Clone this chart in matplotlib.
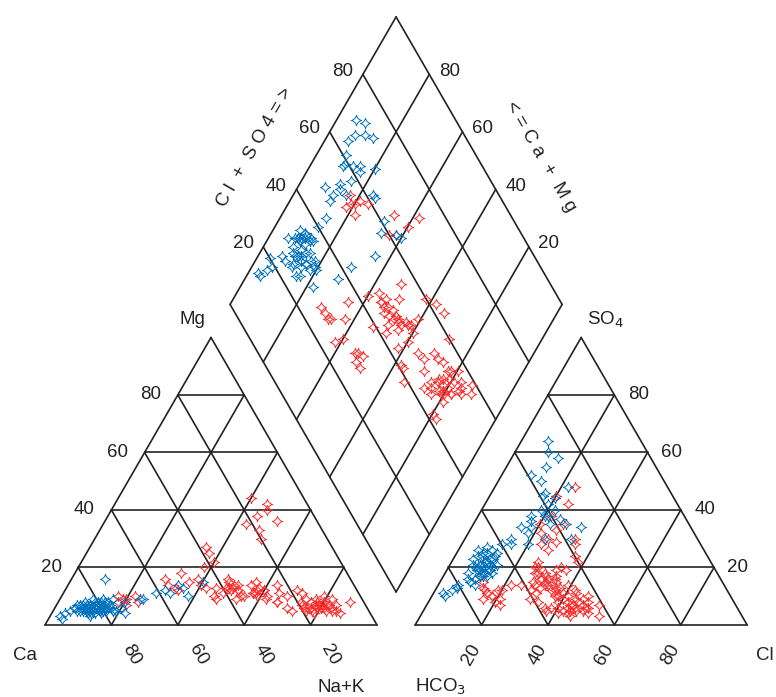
import numpy as np
import matplotlib
matplotlib.use("Agg")
import matplotlib.pyplot as plt
from matplotlib.path import Path

plt.rcParams['font.family'] = ['Liberation Sans', 'DejaVu Sans']

# ---------------- data (percent) ----------------
tick_values = [20, 40, 60, 80]

blue_mg = [6, 5, 7, 6, 4, 8, 5, 6, 7, 5, 6, 4, 8, 7, 5, 6, 9, 5, 6, 7,
           4, 6, 8, 5, 6, 7, 5, 6, 3, 7, 6, 5, 8, 4, 7, 6, 9, 5, 6, 7,
           6, 7, 5, 8, 6, 7, 5, 6, 9, 7, 6, 5, 8, 6, 7, 4, 6, 7, 5, 8,
           5, 4, 6, 3, 12, 13, 10, 14, 11, 9, 15, 11, 16, 2, 8, 9]
blue_nak = [10, 18, 9, 12, 15, 13, 14, 16, 12, 10, 8, 22, 14, 16, 9, 11, 13, 19, 17, 6,
            12, 9, 14, 15, 20, 7, 11, 10, 12, 13, 15, 18, 8, 11, 13, 9, 16, 14, 10, 12,
            14, 8, 12, 15, 9, 13, 7, 16, 10, 12, 15, 8, 11, 14, 9, 13, 6, 10, 16, 12,
            5, 4, 6, 3, 30, 35, 38, 33, 28, 25, 40, 32, 10, 4, 20, 24]
blue_cl = [8, 12, 10, 7, 11, 9, 13, 10, 8, 12, 11, 7, 10, 13, 9, 8, 12, 10, 14, 9,
           11, 6, 10, 12, 13, 8, 9, 11, 10, 12, 7, 13, 11, 9, 14, 8, 10, 12, 6, 11,
           14, 15, 16, 18, 19, 17, 20, 16, 21, 18, 13, 12, 10, 14, 8, 9, 22, 23, 24, 20,
           5, 4, 6, 3, 15, 18, 22, 20, 12, 25, 28, 16, 10, 6, 33, 32]
blue_so4 = [20, 18, 22, 24, 17, 21, 19, 16, 25, 23, 20, 21, 19, 17, 15, 27, 24, 22, 18, 20,
            14, 23, 26, 21, 19, 16, 25, 22, 16, 28, 18, 20, 23, 19, 21, 24, 20, 17, 26, 18,
            30, 34, 38, 40, 42, 36, 44, 46, 38, 32, 50, 55, 60, 58, 64, 52, 48, 35, 30, 28,
            12, 10, 13, 11, 28, 34, 40, 38, 25, 37, 35, 45, 22, 14, 34, 30]

red_mg = [7, 6, 8, 5, 7, 6, 9, 6, 5, 8, 7, 6, 4, 7, 8, 6, 5, 9, 7, 6,
          5, 8, 7, 6, 10, 4, 8, 6, 5, 9,
          12, 10, 14, 11, 13, 9, 15, 12, 10, 13, 11, 14, 12, 8, 16,
          38, 40, 35, 42, 33, 44, 30, 36,
          25, 22, 27, 20,
          14, 16, 13, 18, 9, 8, 10, 9, 7, 10, 8,
          15, 14, 12, 16, 13,
          11, 12, 10, 13, 9,
          10, 12, 8, 11, 6, 7, 5,
          12, 14, 11, 13, 10, 15, 12, 9, 13, 11, 14, 10]
red_nak = [78, 80, 76, 82, 79, 75, 77, 81, 78, 80, 74, 83, 79, 81, 78, 77, 76, 82, 84, 79,
           85, 73, 80, 76, 79, 87, 88, 70, 72, 74,
           60, 55, 50, 65, 58, 62, 48, 52, 68, 45, 57, 63, 70, 66, 47,
           45, 47, 43, 46, 48, 40, 50, 52,
           37, 40, 35, 38,
           30, 28, 33, 32, 20, 18, 22, 19, 21, 17, 24,
           36, 40, 34, 38, 42,
           48, 50, 46, 49, 47,
           62, 58, 66, 72, 80, 82, 84,
           52, 55, 58, 50, 54, 56, 60, 53, 48, 57, 51, 59]
red_cl = [43, 45, 42, 46, 44, 40, 41, 47, 44, 43, 39, 48, 45, 42, 46, 43, 41, 44, 49, 40,
          50, 38, 47, 44, 45, 52, 54, 37, 48, 42,
          35, 32, 30, 38, 28, 33, 27, 31, 36, 26, 34, 29, 39, 30, 25,
          30, 28, 32, 31, 27, 29, 33, 26,
          20, 18, 22, 16,
          15, 14, 13, 16, 25, 24, 27, 22, 28, 20, 26,
          22, 25, 20, 27, 24,
          20, 18, 22, 19, 21,
          34, 36, 33, 38, 37, 36, 48,
          33, 36, 34, 38, 30, 35, 37, 32, 36, 39, 31, 34]
red_so4 = [7, 6, 8, 5, 9, 6, 10, 7, 4, 6, 8, 8, 3, 5, 9, 11, 4, 7, 6, 9,
           4, 6, 10, 5, 8, 7, 3, 10, 5, 12,
           12, 14, 16, 10, 15, 8, 18, 11, 13, 20, 16, 12, 14, 9, 14,
           16, 18, 15, 17, 20, 14, 19, 22,
           12, 10, 14, 9,
           12, 13, 15, 11, 30, 28, 26, 32, 29, 35, 33,
           38, 42, 45, 35, 48,
           8, 10, 7, 12, 9,
           28, 24, 30, 22, 5, 6, 6,
           14, 12, 17, 10, 18, 15, 13, 16, 19, 11, 13, 20]

# ---------------- geometry ----------------
GAP = 0.115
H = np.sqrt(3) / 2
SCALE = 332.0
X0, Y0 = 45.0, 625.0
W, HH = 776, 697

fig = plt.figure(figsize=(W / 100, HH / 100), dpi=100)
ax = fig.add_axes([0, 0, 1, 1])
ax.set_xlim((0 - X0) / SCALE, (W - X0) / SCALE)
ax.set_ylim((Y0 - HH) / SCALE, Y0 / SCALE)
ax.axis('off')

LC = '#222222'
LW = 1.2


def line(p, q):
    ax.plot([p[0], q[0]], [p[1], q[1]], color=LC, lw=LW, solid_capstyle='round', zorder=1)


def cation_xy(mg, nak):
    mg = np.asarray(mg) / 100.0
    nak = np.asarray(nak) / 100.0
    return nak + 0.5 * mg, H * mg


def anion_xy(cl, so4):
    cl = np.asarray(cl) / 100.0
    so4 = np.asarray(so4) / 100.0
    return 1 + GAP + cl + 0.5 * so4, H * so4


def diamond_xy(nak, cl, so4):
    n = np.asarray(nak) / 100.0
    a = (np.asarray(cl) + np.asarray(so4)) / 100.0
    t = 1 + GAP + a - n
    return n + 0.5 * t, H * t


# left triangle
L = [(0, 0), (1, 0), (0.5, H)]
# right triangle
ox = 1 + GAP
R = [(ox, 0), (ox + 1, 0), (ox + 0.5, H)]
for tri in (L, R):
    for i in range(3):
        line(tri[i], tri[(i + 1) % 3])

for v in tick_values:
    f = v / 100.0
    for off in (0, ox):
        line((off + 0.5 * f, H * f), (off + 1 - 0.5 * f, H * f))
        line((off + f, 0), (off + f + 0.5 * (1 - f), H * (1 - f)))
        line((off + 1 - f, 0), (off + 0.5 * (1 - f), H * (1 - f)))


def dpt(n, a):
    t = 1 + GAP + a - n
    return (n + 0.5 * t, H * t)


D = [dpt(1, 0), dpt(1, 1), dpt(0, 1), dpt(0, 0)]
for i in range(4):
    line(D[i], D[(i + 1) % 4])
for v in tick_values:
    f = v / 100.0
    line(dpt(f, 0), dpt(f, 1))
    line(dpt(0, f), dpt(1, f))

# ---------------- labels ----------------
FS = 13.5
TC = '#222222'
px = 1.0 / SCALE
for v in tick_values:
    f = v / 100.0
    ax.text(0.5 * f - 27 * px, H * f, str(v), fontsize=FS, ha='center', va='center', color=TC)
    ax.text(ox + 1 - 0.5 * f + 24 * px, H * f, str(v), fontsize=FS, ha='center', va='center', color=TC)
    ax.text(1 - f + 20 * px, -30 * px, str(v), fontsize=FS, ha='center', va='center',
            rotation=-60, color=TC)
    ax.text(ox + f - 10 * px, -30 * px, str(v), fontsize=FS, ha='center', va='center',
            rotation=60, color=TC)
    p = dpt(0, f)
    ax.text(p[0] - 20 * px, p[1] + 3 * px, str(v), fontsize=FS, ha='center', va='center', color=TC)
    p = dpt(1 - f, 1)
    ax.text(p[0] + 20 * px, p[1] + 3 * px, str(v), fontsize=FS, ha='center', va='center', color=TC)

ax.text(-20 * px, -30 * px, 'Ca', fontsize=FS, ha='center', va='center', color=TC)
ax.text(296 * px, -62 * px, 'Na+K', fontsize=FS, ha='center', va='center', color=TC)
ax.text(396 * px, -62 * px, r'HCO$_3$', fontsize=FS, ha='center', va='center', color=TC)
ax.text(720 * px, -30 * px, 'Cl', fontsize=FS, ha='center', va='center', color=TC)
ax.text(147 * px, 305 * px, 'Mg', fontsize=FS, ha='center', va='center', color=TC)
ax.text(560 * px, 305 * px, r'SO$_4$', fontsize=FS, ha='center', va='center', color=TC)
ax.text(210 * px, 478 * px, 'C l  +  S O 4 = >', fontsize=FS, ha='center', va='center',
        rotation=60, color=TC)
ax.text(495 * px, 468 * px, '< = C a  +  M g', fontsize=FS, ha='center', va='center',
        rotation=-60, color=TC)

# ---------------- markers ----------------
tt = np.linspace(0, 2 * np.pi, 41)
star = Path(np.column_stack([np.cos(tt) ** 3, np.sin(tt) ** 3]))

BLUE = '#0072BD'
RED = '#FF2A2A'
MS = 7.5
for mg, nak, cl, so4, col in ((red_mg, red_nak, red_cl, red_so4, RED),
                              (blue_mg, blue_nak, blue_cl, blue_so4, BLUE)):
    for xy in (cation_xy(mg, nak), anion_xy(cl, so4), diamond_xy(nak, cl, so4)):
        ax.plot(xy[0], xy[1], linestyle='none', marker=star, ms=MS, mfc='none',
                mec=col, mew=0.7, zorder=3)

fig.savefig('out.png', dpi=100)
